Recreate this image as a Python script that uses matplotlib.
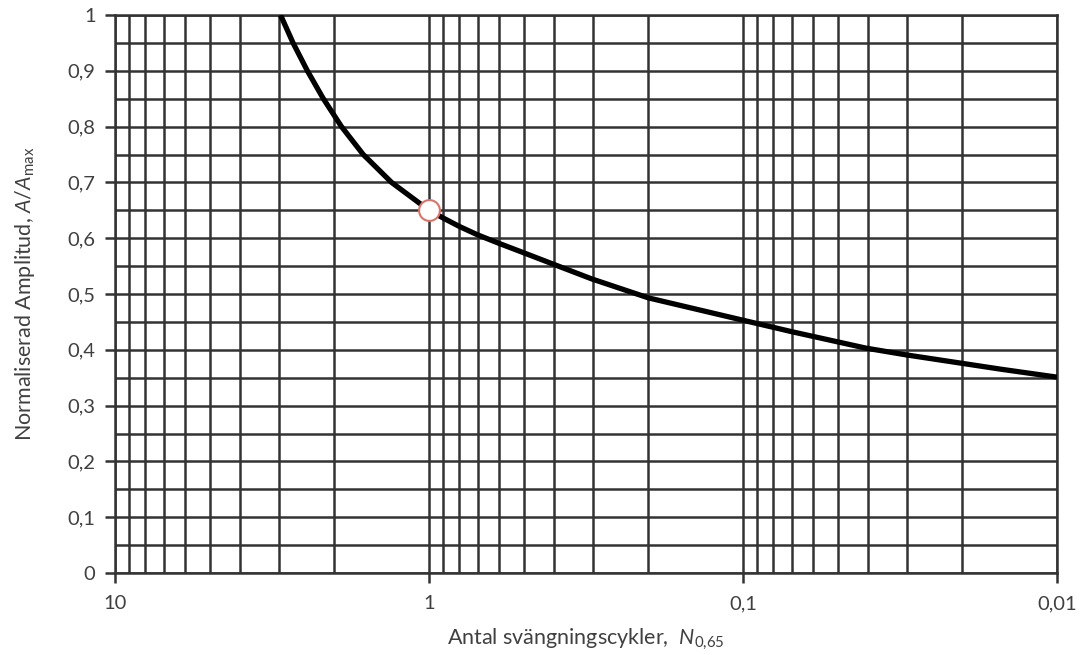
import matplotlib
matplotlib.use("Agg")
import matplotlib.pyplot as plt
from matplotlib.ticker import FixedLocator, FuncFormatter, NullFormatter

plt.rcParams['font.family'] = ['Lato', 'DejaVu Sans']
plt.rcParams['mathtext.fontset'] = 'custom'
plt.rcParams['mathtext.rm'] = 'Lato'
plt.rcParams['mathtext.it'] = 'Lato:italic'

# Number of oscillation cycles and normalised amplitude along the curve
cycles = [2.97, 2.71, 2.44, 2.17, 1.90, 1.62, 1.316, 1.0, 0.9, 0.8, 0.7, 0.6,
          0.5, 0.4, 0.303, 0.2, 0.1, 0.07, 0.0406, 0.0303, 0.0202, 0.015, 0.01]
amplitude = [1.0, 0.95, 0.9, 0.85, 0.8, 0.75, 0.7, 0.65, 0.636, 0.621, 0.606, 0.591,
             0.574, 0.553, 0.527, 0.493, 0.453, 0.4325, 0.403, 0.391, 0.376, 0.365, 0.351]

# Reference point on the curve
ref_cycles = [1.0]
ref_amplitude = [0.65]

x_major = [10, 1, 0.1, 0.01]
x_labels = ['10', '1', '0,1', '0,01']
y_major = [0, 0.1, 0.2, 0.3, 0.4, 0.5, 0.6, 0.7, 0.8, 0.9, 1.0]

grid_color = '#333333'
text_color = '#404040'

fig = plt.figure(figsize=(10.81, 6.55), dpi=100)
ax = fig.add_axes([115 / 1081, 1 - 573 / 655, (1057 - 115) / 1081, (573 - 15) / 655])

ax.set_xscale('log')
ax.set_xlim(10, 0.01)
ax.set_ylim(0, 1)

# Log-decade gridlines
minor_x = [m * 10.0 ** e for e in (-2, -1, 0) for m in range(2, 10)]
ax.xaxis.set_major_locator(FixedLocator(x_major))
ax.xaxis.set_minor_locator(FixedLocator(minor_x))
ax.xaxis.set_major_formatter(FuncFormatter(
    lambda v, p: x_labels[x_major.index(min(x_major, key=lambda t: abs(t - v)))]))
ax.xaxis.set_minor_formatter(NullFormatter())

ax.yaxis.set_major_locator(FixedLocator(y_major))
ax.yaxis.set_minor_locator(FixedLocator([v + 0.05 for v in y_major[:-1]]))
ax.yaxis.set_major_formatter(FuncFormatter(lambda v, p: ('%g' % round(v, 2)).replace('.', ',')))

ax.grid(True, which='both', color=grid_color, linewidth=1.8)
ax.set_axisbelow(True)

for s in ax.spines.values():
    s.set_color(grid_color)
    s.set_linewidth(1.8)

ax.tick_params(axis='both', which='major', direction='out', length=7, width=1.8,
               color=grid_color, labelcolor=text_color, labelsize=14.5)
ax.tick_params(axis='y', which='major', pad=7)
ax.tick_params(axis='x', which='major', pad=9)
ax.tick_params(axis='both', which='minor', length=0)

ax.plot(cycles, amplitude, color='black', linewidth=3.8, solid_joinstyle='round',
        solid_capstyle='butt', zorder=3)
ax.plot(ref_cycles, ref_amplitude, linestyle='none', marker='o', markersize=15,
        markerfacecolor='white', markeredgecolor='#d9746a', markeredgewidth=1.5, zorder=4)

ax.set_xlabel('Antal svängningscykler,  $\\mathit{N}_{0{,}65}$', fontsize=15.5,
              color=text_color, labelpad=10)
ax.set_ylabel('Normaliserad Amplitud, $\\mathit{A/A}_{\\mathrm{max}}$', fontsize=15.5,
              color=text_color)
ax.yaxis.set_label_coords(-0.083, 0.5)

fig.savefig('out.png', dpi=100)
